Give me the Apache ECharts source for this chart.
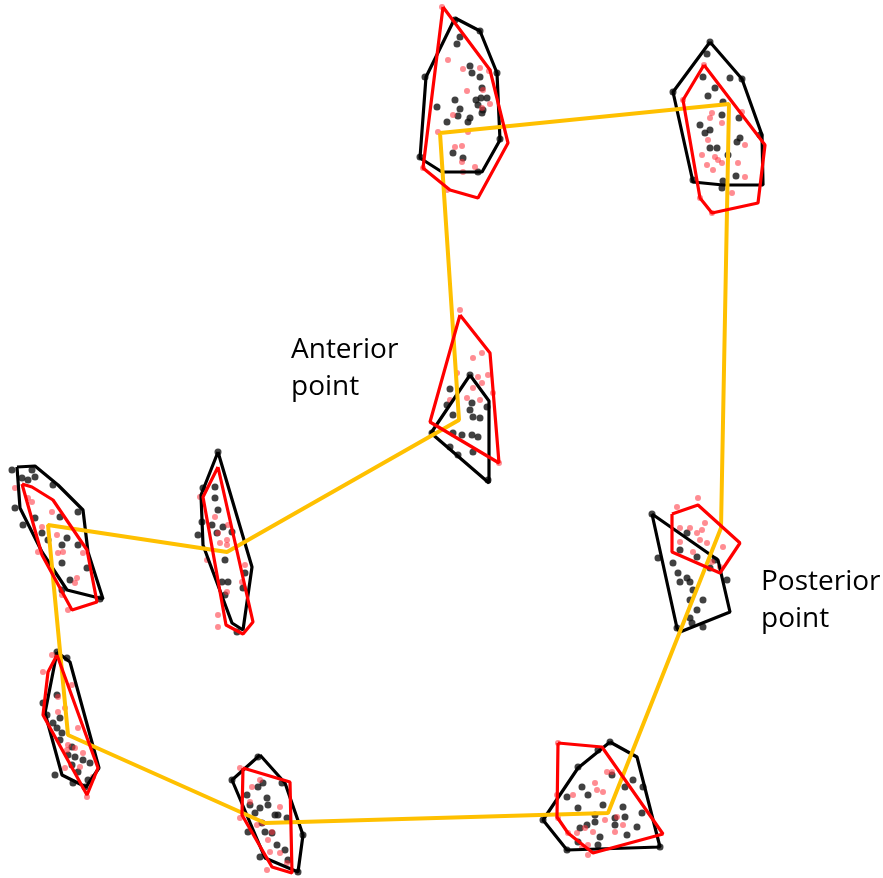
<!DOCTYPE html>
<html>
<head>
<meta charset="utf-8">
<script src="https://cdn.jsdelivr.net/npm/echarts@6/dist/echarts.min.js"></script>
<style>
  html, body { margin: 0; padding: 0; background: #fff; }
  #chart { width: 883px; height: 878px; }
</style>
</head>
<body>
<div id="chart"></div>
<script>
// Coordinates are in the figure's own units (x right, y down)
const centerPath = [
  [440, 133], [729, 104], [721, 528], [608, 813], [265, 823],
  [68, 735], [48, 525], [227, 552], [459, 420], [440, 133]
];

const blackHulls = [
  [[455, 18], [480, 31], [497, 73], [500, 140], [482, 172], [442, 172], [420, 158], [426, 77]],
  [[710, 42], [742, 79], [762, 135], [763, 185], [723, 185], [693, 182], [673, 92]],
  [[470, 375], [489, 401], [489, 483], [431, 433]],
  [[17, 467], [35, 466], [58, 485], [83, 510], [88, 552], [103, 599], [67, 590], [42, 552], [20, 508]],
  [[218, 452], [252, 567], [243, 630], [232, 623], [203, 545], [201, 495]],
  [[57, 652], [70, 662], [99, 768], [86, 787], [62, 775], [45, 713]],
  [[260, 755], [285, 783], [303, 835], [298, 872], [265, 858], [232, 780]],
  [[610, 742], [637, 757], [660, 847], [567, 850], [543, 820], [578, 768]],
  [[652, 514], [718, 560], [730, 612], [680, 632], [677, 628]]
];

const redHulls = [
  [[443, 7], [490, 70], [508, 143], [478, 198], [450, 190], [423, 168]],
  [[704, 65], [765, 145], [758, 203], [712, 213], [700, 198], [683, 100]],
  [[460, 315], [490, 353], [499, 463], [430, 422]],
  [[22, 484], [32, 487], [53, 500], [87, 550], [97, 602], [72, 610], [42, 555]],
  [[218, 467], [253, 622], [243, 634], [226, 625], [203, 497]],
  [[57, 655], [98, 768], [87, 795], [43, 715], [48, 672]],
  [[243, 768], [290, 782], [292, 873], [272, 867], [242, 815]],
  [[558, 743], [602, 747], [663, 834], [593, 853], [568, 833], [557, 817]],
  [[672, 514], [698, 505], [740, 543], [720, 573], [672, 552]]
];

const blackDots = [
  // top left group
  [455, 20], [460, 37], [457, 44], [480, 31], [470, 66], [472, 73], [480, 77], [482, 88], [481, 98], [487, 98],
  [476, 100], [478, 105], [455, 100], [437, 107], [460, 109], [458, 116], [470, 118], [468, 122], [447, 122],
  [483, 110], [482, 113], [425, 77], [497, 73], [500, 139], [453, 153], [463, 158], [420, 157], [478, 172],
  // top right group
  [710, 42], [707, 54], [703, 77], [730, 78], [742, 79], [715, 88], [708, 96], [673, 92], [723, 102], [722, 115],
  [739, 118], [700, 125], [710, 130], [705, 133], [740, 138], [737, 142], [710, 148], [717, 148], [728, 155],
  [736, 176], [693, 180], [723, 181], [722, 188], [760, 135],
  // anterior group
  [470, 375], [450, 389], [447, 405], [472, 403], [487, 407], [453, 415], [470, 410], [473, 417], [480, 418],
  [432, 433], [453, 433], [462, 435], [472, 435], [478, 437], [450, 447], [473, 452], [488, 480], [458, 455],
  // far left group
  [12, 470], [32, 470], [22, 478], [28, 480], [35, 477], [53, 485], [15, 508], [23, 525], [35, 518], [60, 517],
  [78, 512], [42, 533], [48, 540], [67, 538], [62, 545], [78, 545], [62, 563], [87, 568], [70, 580], [62, 590],
  [100, 599],
  // second left group
  [218, 452], [203, 488], [215, 487], [215, 498], [218, 510], [202, 522], [212, 525], [223, 527], [232, 532],
  [198, 535], [217, 533], [225, 560], [245, 573], [222, 582], [228, 582], [225, 595], [243, 588], [237, 632],
  // lower left group
  [57, 652], [67, 658], [57, 695], [43, 703], [60, 718], [53, 723], [57, 728], [62, 733], [60, 740], [72, 747],
  [68, 755], [75, 757], [83, 760], [90, 763], [72, 765], [78, 772], [55, 775], [73, 783], [85, 787], [88, 780],
  [47, 715],
  // bottom middle group
  [258, 757], [232, 780], [263, 783], [258, 787], [282, 783], [247, 795], [267, 798], [268, 805], [250, 805],
  [260, 808], [255, 813], [275, 815], [278, 815], [287, 818], [262, 823], [265, 832], [272, 833], [248, 832],
  [303, 835], [277, 845], [285, 850], [260, 857], [288, 860], [298, 872],
  // bottom right group
  [610, 742], [598, 750], [578, 767], [612, 775], [633, 780], [625, 787], [643, 787], [582, 787], [588, 795],
  [567, 797], [603, 805], [578, 808], [623, 807], [595, 815], [642, 813], [615, 818], [625, 817], [587, 825],
  [615, 825], [637, 827], [595, 822], [580, 828], [627, 835], [600, 837], [578, 842], [598, 845], [567, 850],
  [660, 847], [543, 820],
  // posterior group
  [652, 514], [687, 533], [680, 550], [658, 558], [673, 563], [697, 557], [678, 573], [687, 578], [690, 582],
  [680, 582], [693, 590], [715, 560], [710, 568], [727, 580], [703, 600], [690, 600], [697, 610], [690, 618],
  [692, 623], [703, 627], [677, 628]
];

const redDots = [
  [442, 7], [448, 60], [463, 69], [480, 68], [489, 71], [467, 91], [483, 90], [490, 104], [482, 108], [453, 115],
  [468, 132], [455, 147], [462, 146], [462, 162], [475, 167], [463, 172], [423, 168], [447, 190], [438, 132],
  [704, 65], [712, 113], [710, 118], [722, 123], [708, 140], [745, 145], [702, 155], [715, 157], [718, 160],
  [707, 165], [722, 163], [738, 163], [713, 170], [745, 177], [732, 193], [700, 198], [712, 213], [683, 100],
  [742, 112],
  [460, 310], [482, 353], [473, 358], [488, 375], [478, 377], [473, 388], [482, 383], [493, 393], [467, 398],
  [480, 400], [450, 400], [457, 373], [499, 463],
  [15, 488], [28, 498], [32, 502], [52, 512], [57, 535], [58, 553], [63, 552], [38, 552], [83, 553], [77, 578],
  [75, 583], [62, 595], [68, 610], [42, 527],
  [200, 497], [215, 517], [228, 525], [218, 533], [227, 540], [220, 543], [227, 545], [207, 560], [245, 565],
  [242, 582], [227, 592], [218, 615], [218, 627],
  [52, 655], [43, 672], [72, 685], [58, 697], [65, 708], [58, 712], [78, 728], [68, 745], [75, 748], [67, 750],
  [83, 753], [80, 767], [93, 777], [87, 797], [65, 768],
  [240, 768], [252, 787], [260, 780], [250, 802], [280, 807], [240, 818], [263, 823], [257, 825], [272, 832],
  [268, 840], [270, 852], [280, 853], [287, 863], [267, 870],
  [558, 743], [607, 772], [612, 772], [595, 783], [597, 790], [603, 792], [557, 795], [573, 795], [617, 817],
  [605, 820], [623, 825], [585, 828], [577, 833], [593, 832], [568, 833], [588, 845], [582, 848], [588, 855],
  [615, 832], [558, 818],
  [698, 498], [677, 507], [705, 523], [680, 528], [690, 528], [697, 533], [702, 530], [700, 540], [680, 542],
  [707, 543], [723, 547], [712, 562], [720, 567], [693, 552]
];

const labels = [
  { text: 'Anterior\npoint', at: [291, 332] },
  { text: 'Posterior\npoint', at: [761, 564] }
];

const chart = echarts.init(document.getElementById('chart'));

const closed = pts => pts.concat([pts[0]]);

const hullSeries = (hulls, color) => hulls.map(h => ({
  type: 'line',
  data: closed(h),
  symbol: 'none',
  silent: true,
  lineStyle: { color: color, width: 3.2 }
}));

const option = {
  backgroundColor: '#fff',
  animation: false,
  grid: { left: 0, right: 0, top: 0, bottom: 0 },
  xAxis: { type: 'value', min: 0, max: 883, show: false },
  yAxis: { type: 'value', min: 0, max: 878, inverse: true, show: false },
  graphic: labels.map(l => ({
    type: 'text',
    left: l.at[0],
    top: l.at[1],
    style: {
      text: l.text,
      font: '28px "Open Sans"',
      fill: '#000',
      lineHeight: 37
    }
  })),
  series: [
    {
      type: 'scatter',
      data: blackDots,
      symbolSize: 7,
      itemStyle: { color: '#111' },
      z: 1
    },
    {
      type: 'scatter',
      data: redDots,
      symbolSize: 6,
      itemStyle: { color: 'rgba(255,50,60,0.7)' },
      z: 1
    },
    ...hullSeries(blackHulls, '#000'),
    {
      type: 'line',
      data: centerPath,
      symbol: 'none',
      lineStyle: { color: '#FFC000', width: 4 }
    },
    ...hullSeries(redHulls, '#F00')
  ]
};

chart.setOption(option);
</script>
</body>
</html>
